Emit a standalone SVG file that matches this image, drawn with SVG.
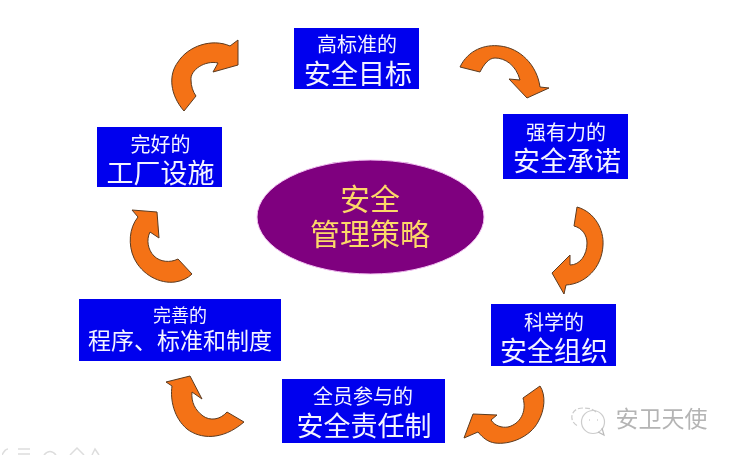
<svg xmlns="http://www.w3.org/2000/svg" width="733" height="455" viewBox="0 0 733 455">
<style>
.box{fill:#0000ee}
.a{fill:#f47216;stroke:#5a3a20;stroke-width:1;stroke-linejoin:miter}
text{font-family:"Noto Sans CJK SC","Noto Sans",sans-serif;text-anchor:middle}
.s{fill:#f4f4ff;font-size:20px}
.l{fill:#f4f4ff;font-size:27px}
.c{fill:#fcd868;font-size:30px}
.m{fill:none;stroke:#ddd;stroke-width:1.500}
</style>
<defs><filter id="soft" x="0" y="0" width="100%" height="100%"><feGaussianBlur stdDeviation="0.450"/></filter></defs>
<rect width="733" height="455" fill="#fff"/>
<g filter="url(#soft)">
<g id="connectors">
<path class="a" d="M460 67C468 50 485 44 500 46C520 48 537 65 540 87L549 88L527 98L509 79L520 80C516 65 505 58 495 58C489 58 484 64 480 72Z"/>
<path class="a" d="M577 207C595 212 604 230 603 245C602 268 585 284 566 285L564 294L552 273L570 255L570 265C580 265 587 255 587 243C587 235 582 228 574 226Z"/>
<path class="a" d="M540 386C546 395 545 410 538 422C530 437 510 445 495 443C488 442 483 438 478 432L464 438L473 414L497 415L491 420C495 426 502 428 508 427C520 424 527 412 523 398Z"/>
<path class="a" d="M244 422L227 412C220 420 210 421 203 416C195 410 191 402 192 392L202 399L190 376L166 382L172 386C170 400 174 418 187 429C200 439 222 441 244 422Z"/>
<path class="a" d="M192 274L178 259C170 263 160 262 154 256C148 250 146 240 150 232L159 238L157 212L132 210L138 217C129 228 128 245 134 258C142 275 160 284 175 282C182 281 188 278 192 274Z"/>
<path class="a" d="M184 111C170 95 168 75 178 62C188 46 212 38 230 46L238 40L238 65L213 72L218 63C205 60 190 70 191 80C191 86 193 92 196 96Z"/>
</g>
<g id="center"><ellipse cx="370.500" cy="217" rx="113.500" ry="57" fill="#7f007f" stroke="#f3c4f3" stroke-width="1"/><text class="c"><tspan x="370" y="210">安全</tspan><tspan x="370" y="245">管理策略</tspan></text></g>
<g id="n1"><rect class="box" x="294" y="28" width="125" height="61"/><text><tspan class="s" x="357" y="52">高标准的</tspan><tspan class="l" x="358" y="84">安全目标</tspan></text></g>
<g id="n2"><rect class="box" x="503" y="114" width="125" height="65"/><text><tspan class="s" x="566" y="140">强有力的</tspan><tspan class="l" x="567" y="171">安全承诺</tspan></text></g>
<g id="n3"><rect class="box" x="491" y="304" width="125" height="62"/><text><tspan class="s" x="554" y="330">科学的</tspan><tspan class="l" x="554" y="361">安全组织</tspan></text></g>
<g id="n4"><rect class="box" x="282" y="379" width="163" height="64"/><text><tspan class="s" x="363" y="404">全员参与的</tspan><tspan class="l" x="364" y="436">安全责任制</tspan></text></g>
<g id="n5"><rect class="box" x="79" y="299" width="202" height="62"/><text><tspan class="s" x="180" y="322" style="font-size:18px">完善的</tspan><tspan class="l" x="180" y="349" style="font-size:23px">程序、标准和制度</tspan></text></g>
<g id="n6"><rect class="box" x="97" y="127" width="125" height="60"/><text><tspan class="s" x="160.500" y="152">完好的</tspan><tspan class="l" x="160.500" y="183">工厂设施</tspan></text></g>
<g id="watermark"><path d="M583 408C574 408 571 414 572 419C573 423 576 425 578 426M596 412C593 409 589 408 583 408" fill="none" stroke="#ccc" stroke-width="1.200" stroke-dasharray="5 2"/><circle cx="593" cy="422" r="11.500" fill="none" stroke="#ccc" stroke-width="1.200"/><path d="M598 432L604 435L602 428M589 420h1M597 420h1" fill="none" stroke="#bbb" stroke-width="1.200"/><text x="661.500" y="427" style="font-size:23px" fill="#b4b4b4">安卫天使</text></g>
<g id="edge-marks"><path class="m" d="M2 455Q5 449 8 449M18 449H30M18 454H30M44 455Q50 448 56 455M70 455L77 448L84 455M92 455L95 449L99 455"/></g>
</g>
</svg>
